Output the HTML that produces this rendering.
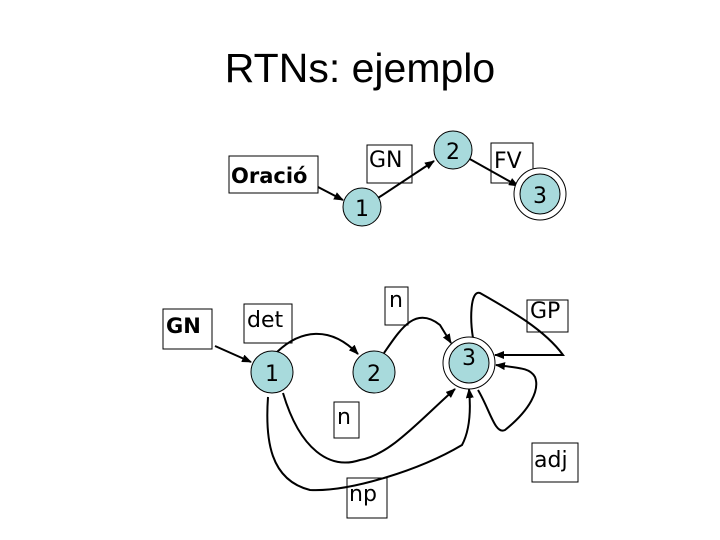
<!DOCTYPE html>
<html><head><meta charset="utf-8"><style>
body{margin:0;background:#fff;}
svg{display:block}
text{font-family:"DejaVu Sans","Liberation Sans",sans-serif;}
</style></head><body>
<svg width="720" height="540" viewBox="0 0 720 540">
<defs><marker id="a" markerWidth="10" markerHeight="8" refX="9" refY="4" orient="auto" markerUnits="userSpaceOnUse"><path d="M0,0 L10,4 L0,8 Z" fill="#000"/></marker></defs>
<text x="360" y="82" font-family="Liberation Sans" font-size="41" text-anchor="middle" style="font-family:'Liberation Sans',sans-serif">RTNs: ejemplo</text>
<g fill="#fff" stroke="#000" stroke-width="1">
<rect x="229" y="156" width="89" height="37"/>
<rect x="367" y="145" width="45" height="38"/>
<rect x="491" y="143" width="42" height="40"/>
<rect x="163" y="309" width="49" height="40"/>
<rect x="244" y="304" width="48" height="39"/>
<rect x="385" y="287" width="23" height="38"/>
<rect x="527" y="300" width="41" height="32"/>
<rect x="334" y="402" width="25" height="36"/>
<rect x="532" y="443" width="46" height="39"/>
<rect x="347" y="478" width="40" height="40"/>
</g>
<g font-size="22">
<text x="231" y="183" font-weight="bold" font-size="21">Oració</text>
<text x="369" y="167">GN</text>
<text x="494" y="168">FV</text>
<text x="166" y="333" font-weight="bold" font-size="21">GN</text>
<text x="247" y="327">det</text>
<text x="389" y="307">n</text>
<text x="530" y="318">GP</text>
<text x="337" y="424">n</text>
<text x="534" y="467">adj</text>
<text x="349" y="501">np</text>
</g>
<g stroke="#000" stroke-width="2" fill="none" marker-end="url(#a)">
<path d="M318,187 L343,200"/>
<path d="M378,198 L434,161"/>
<path d="M468,158 L518,186"/>
<path d="M215,346 L251,362"/>
<path d="M277,352 C300,330 330,325 358,354"/>
<path d="M384,353 C400,330 415,305 440,325 L451,343"/>
<path d="M283,393 C300,450 330,470 360,460 C390,455 420,420 455,389"/>
<path d="M268,397 C265,440 270,480 310,490 C350,492 420,470 462,445 C470,430 471,410 469,389"/>
<path d="M473,338 C470,320 470,290 480,293 C510,310 545,330 563,355 L495,355"/>
<path d="M478,390 C490,410 495,435 505,430 C530,410 540,390 535,377 C530,368 520,368 496,365"/>
</g>
<g stroke="#000" stroke-width="1">
<circle cx="540" cy="194" r="26" fill="#fff"/>
<circle cx="469" cy="363" r="26" fill="#fff"/>
</g>
<g fill="#a8dadc" stroke="#000" stroke-width="1">
<circle cx="362" cy="207" r="19"/>
<circle cx="453" cy="150" r="19"/>
<circle cx="540" cy="194" r="20"/>
<circle cx="272" cy="372" r="21"/>
<circle cx="374" cy="372" r="21"/>
<circle cx="469" cy="363" r="20"/>
</g>
<g font-size="22" text-anchor="middle">
<text x="362" y="216">1</text>
<text x="453" y="159">2</text>
<text x="540" y="203">3</text>
<text x="272" y="381">1</text>
<text x="374" y="381">2</text>
<text x="469" y="365">3</text>
</g>
</svg>
</body></html>
